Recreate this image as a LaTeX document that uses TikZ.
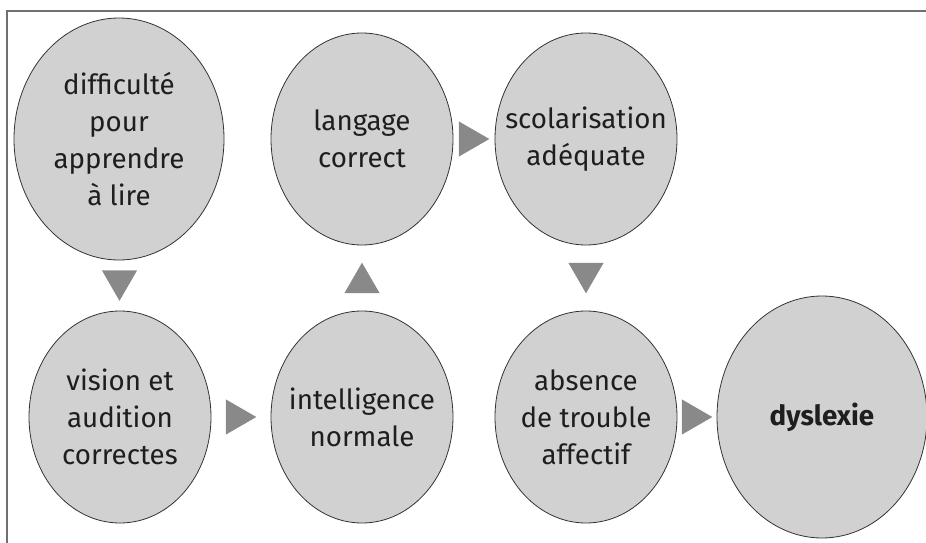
\documentclass[tikz,border=0pt]{standalone}
\usepackage{fontspec}
\setmainfont{Fira Sans}
\usepackage{tikz}
\usetikzlibrary{shapes.geometric, calc}

\definecolor{bubblefill}{HTML}{D1D1D1}
\definecolor{bubbleline}{HTML}{333333}
\definecolor{trifill}{HTML}{898989}
\definecolor{framegray}{HTML}{707070}
\definecolor{textdark}{HTML}{1E1E1E}

\begin{document}
\begin{tikzpicture}[x=0.75pt, y=-0.75pt,
  bubble/.style={draw=bubbleline, fill=bubblefill, line width=0.6pt, ellipse,
    inner sep=-35pt, minimum width=136.5pt, minimum height=159pt, align=center,
    text=textdark, font=\fontsize{20.8}{27.75}\selectfont},
  bigbubble/.style={bubble, minimum width=157.5pt, minimum height=181.5pt},
  tri/.style={draw=none, fill=trifill, regular polygon, regular polygon sides=3,
    inner sep=0pt, minimum size=30.5pt},
  tridown/.style={tri, shape border rotate=180, yshift=3.75pt},
  triup/.style={tri, yshift=-3.75pt},
  triright/.style={tri, shape border rotate=-90, xshift=-3.75pt}]

\useasboundingbox (0,0) rectangle (926,543);

% frame
\draw[framegray, line width=1.1pt] (7,543) -- (7,11) -- (926,11);

% top row
\node[bigbubble] (e1) at (119, 139) {difficulté\\pour\\apprendre\\à lire};
\node[bubble] (e2) at (362, 139) {langage\\correct};
\node[bubble] (e3) at (586, 139) {scolarisation\\adéquate};

% bottom row
\node[bubble] (e4) at (120, 417) {vision et\\audition\\correctes};
\node[bubble] (e5) at (362, 417) {intelligence\\normale};
\node[bubble] (e6) at (586, 417) {absence\\de trouble\\affectif};
\node[bigbubble] (e7) at (822, 417) {\textbf{dyslexie}};

% triangles
\node[tridown] (t14) at ($(e1.south)!0.5!(e4.north)$) {};
\node[triright] (t45) at ($(e4.east)!0.5!(e5.west)$) {};
\node[triup] (t52) at ($(e5.north)!0.5!(e2.south)$) {};
\node[triright] (t23) at ($(e2.east)!0.5!(e3.west)$) {};
\node[tridown] (t36) at ($(e3.south)!0.5!(e6.north)$) {};
\node[triright] (t67) at ($(e6.east)!0.5!(e7.west)$) {};

\end{tikzpicture}
\end{document}
